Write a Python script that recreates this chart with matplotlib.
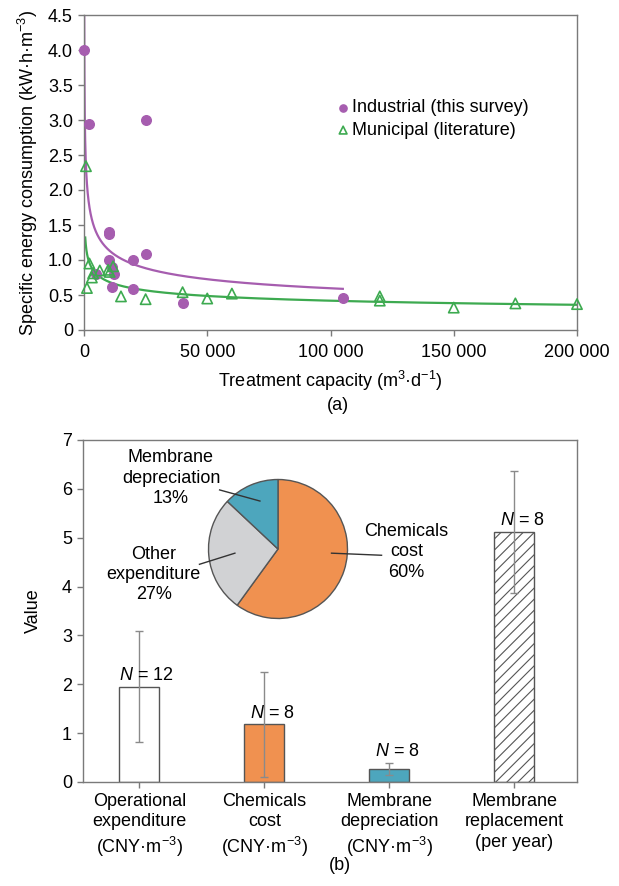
import numpy as np
import matplotlib
matplotlib.use('Agg')
import matplotlib.pyplot as plt

plt.rcParams['font.family'] = ['Liberation Sans', 'DejaVu Sans']
plt.rcParams['font.size'] = 13
plt.rcParams['mathtext.fontset'] = 'custom'
plt.rcParams['mathtext.rm'] = 'Liberation Sans'
plt.rcParams['mathtext.it'] = 'Liberation Sans:italic'
plt.rcParams['hatch.linewidth'] = 0.8

#%% data (a)
ind_x = [0, 2200, 25000, 10000, 10000, 10000, 11500, 12000, 11500, 4800,
         20000, 20000, 25000, 40000, 105000]
ind_y = [4.0, 2.95, 3.0, 1.40, 1.37, 1.0, 0.90, 0.80, 0.62, 0.80,
         1.0, 0.58, 1.08, 0.39, 0.46]

mun_x = [800, 1200, 2200, 3200, 3700, 6400, 9800, 10400, 11800, 15000,
         25000, 40000, 50000, 60000, 120000, 120000, 150000, 175000, 200000]
mun_y = [2.34, 0.60, 0.95, 0.75, 0.81, 0.85, 0.86, 0.83, 0.91, 0.48,
         0.44, 0.54, 0.45, 0.52, 0.48, 0.42, 0.32, 0.38, 0.37]

# power-law trend lines y = a * x^b
ind_fit = (15.5, -0.283, 40, 105000)
mun_fit = (5.09, -0.217, 500, 200000)

#%% data (b)
bar_names = ['Operational\nexpenditure\n(CNY·m$^{-3}$)',
             'Chemicals\ncost\n(CNY·m$^{-3}$)',
             'Membrane\ndepreciation\n(CNY·m$^{-3}$)',
             'Membrane\nreplacement\n(per year)']
bar_vals = [1.95, 1.18, 0.26, 5.11]
bar_err = [1.14, 1.08, 0.12, 1.25]
bar_n = [12, 8, 8, 8]
n_label_y = [2.0, 1.23, 0.46, 5.17]

pie_names = ['Chemicals\ncost\n60%', 'Other\nexpenditure\n27%', 'Membrane\ndepreciation\n13%']
pie_vals = [60, 27, 13]

purple = '#A65DAF'
green = '#3DAA50'
orange = '#F09150'
gray = '#D1D2D4'
teal = '#4DA6BD'
spine_c = '#7a7a7a'

W, H = 619, 886
fig = plt.figure(figsize=(W / 100, H / 100), dpi=100)

def style(ax):
    for s in ax.spines.values():
        s.set_color(spine_c)
        s.set_linewidth(1.0)
    ax.tick_params(direction='out', length=4, color=spine_c, width=1.0, pad=4)

#%% panel (a)
ax1 = fig.add_axes([84 / W, 1 - 330 / H, (577 - 84) / W, (330 - 15) / H])
style(ax1)
ax1.tick_params(axis='x', pad=6)

for fit, c in [(ind_fit, purple), (mun_fit, green)]:
    a, b, x0, x1 = fit
    xx = np.linspace(x0, x1, 2000)
    xx = np.concatenate([np.geomspace(x0, 3000, 300), xx[xx > 3000]])
    ax1.plot(xx, a * xx ** b, color=c, lw=1.6, zorder=2)

ax1.scatter(ind_x, ind_y, s=48, color=purple, zorder=3, clip_on=False,
            label='Industrial (this survey)')
ax1.scatter(mun_x, mun_y, s=55, marker='^', facecolor='none', edgecolor=green,
            linewidths=1.2, zorder=4, clip_on=False, label='Municipal (literature)')

ax1.set_xlim(0, 200000)
ax1.set_ylim(0, 4.5)
ax1.set_xticks([0, 50000, 100000, 150000, 200000])
ax1.set_xticklabels(['0', '50 000', '100 000', '150 000', '200 000'])
yt = np.arange(0, 4.51, 0.5)
ax1.set_yticks(yt)
ax1.set_yticklabels(['0'] + ['%.1f' % v for v in yt[1:]])
ax1.set_xlabel('Treatment capacity (m$^{3}$·d$^{-1}$)', labelpad=6)
ax1.set_ylabel('Specific energy consumption (kW·h·m$^{-3}$)', labelpad=6)

ax1.legend(loc='upper left', bbox_to_anchor=(0.5, 0.755), frameon=False,
           handlelength=0.6, handletextpad=0.2, borderaxespad=0,
           labelspacing=0.3, markerscale=0.75)

fig.text(338 / W, 1 - 405 / H, '(a)', ha='center', va='center')

#%% panel (b)
ax2 = fig.add_axes([83 / W, 1 - 782 / H, (577 - 83) / W, (782 - 440) / H])
style(ax2)
pos = np.arange(len(bar_vals))
face = ['white', orange, teal, 'white']
hatch = [None, None, None, '///']
for i in range(len(bar_vals)):
    ax2.bar(pos[i], bar_vals[i], width=0.32, color=face[i], edgecolor='#555555',
            linewidth=1.0, hatch=hatch[i], zorder=2)
ax2.errorbar(pos, bar_vals, yerr=bar_err, fmt='none', ecolor='#8a8a8a',
             elinewidth=1.0, capsize=3, capthick=1.0, zorder=3)
for i in range(len(bar_vals)):
    ax2.text(pos[i] + 0.06, n_label_y[i], '$N$ = %d' % bar_n[i], ha='center', va='bottom')

ax2.set_xlim(-0.45, 3.5)
ax2.set_ylim(0, 7)
ax2.set_yticks(range(0, 8))
ax2.set_xticks(pos)
ax2.set_xticklabels(bar_names, linespacing=1.25)
ax2.set_ylabel('Value', labelpad=14)

fig.text(340 / W, 1 - 866 / H, '(b)', ha='center', va='center')

# inset pie
r = 69.5
axp = fig.add_axes([(278 - r) / W, 1 - (549 + r) / H, 2 * r / W, 2 * r / H])
axp.pie(pie_vals, colors=[orange, gray, teal], startangle=90, counterclock=False,
        wedgeprops=dict(edgecolor='#555555', linewidth=1.0))
axp.set_xlim(-1, 1)
axp.set_ylim(-1, 1)
axp.set_aspect('auto')
axp.axis('off')

label_xy = [(1.85, -0.04), (-1.79, -0.37), (-1.54, 1.02)]
line_ends = [((0.77, -0.06), (1.49, -0.09)),
             ((-0.62, -0.06), (-1.13, -0.22)),
             ((-0.26, 0.69), (-0.84, 0.85))]
for name, (tx, ty), (p0, p1) in zip(pie_names, label_xy, line_ends):
    axp.text(tx, ty, name, ha='center', va='center', linespacing=1.25, clip_on=False)
    axp.plot([p0[0], p1[0]], [p0[1], p1[1]], color='#333333', lw=1.0, clip_on=False)

fig.savefig('out.png', dpi=100)
